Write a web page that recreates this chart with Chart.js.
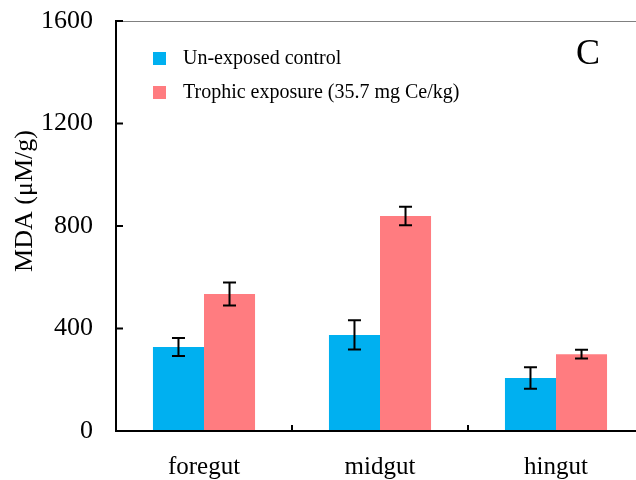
<!DOCTYPE html>
<html>
<head>
<meta charset="utf-8">
<title>MDA in gut segments</title>
<style>
  html, body { margin: 0; padding: 0; overflow: hidden; background: #fff; }
  #wrap { width: 644px; height: 480px; }
</style>
</head>
<body>
<div id="wrap"><canvas id="myChart"></canvas></div>
<script src="https://cdn.jsdelivr.net/npm/chart.js"></script>
<script>
const segments = ['foregut', 'midgut', 'hingut'];
const controlMda = [328, 375, 207];
const controlErr = [35, 57, 42];
const exposedMda = [535, 839, 300];
const exposedErr = [45, 36, 17];
const yTicks = [0, 400, 800, 1200, 1600];
const yTitle = 'MDA (\u03bcM/g)';
const panelLetter = 'C';

const serif = "'Liberation Serif', 'Times New Roman', serif";

// whiskers: mean +/- error, drawn on top of each bar
const errorBars = {
  id: 'errorBars',
  afterDatasetsDraw(chart) {
    const ctx = chart.ctx;
    const y = chart.scales.y;
    ctx.save();
    ctx.strokeStyle = '#000';
    ctx.lineWidth = 2;
    chart.data.datasets.forEach((ds, i) => {
      chart.getDatasetMeta(i).data.forEach((bar, j) => {
        const hi = y.getPixelForValue(ds.data[j] + ds.errors[j]);
        const lo = y.getPixelForValue(ds.data[j] - ds.errors[j]);
        const x = bar.x;
        ctx.beginPath();
        ctx.moveTo(x, hi); ctx.lineTo(x, lo);
        ctx.moveTo(x - 6.5, hi); ctx.lineTo(x + 6.5, hi);
        ctx.moveTo(x - 6.5, lo); ctx.lineTo(x + 6.5, lo);
        ctx.stroke();
      });
    });
    ctx.restore();
  }
};

// frame: top rule, baseline, inward tick marks
const frame = {
  id: 'frame',
  afterDatasetsDraw(chart) {
    const ctx = chart.ctx;
    const { left, top, bottom } = chart.chartArea;
    const right = chart.width;
    const x = chart.scales.x, y = chart.scales.y;
    ctx.save();
    ctx.strokeStyle = '#808080';
    ctx.lineWidth = 1;
    ctx.beginPath();
    ctx.moveTo(left, top + 0.5); ctx.lineTo(right, top + 0.5);
    ctx.stroke();

    ctx.strokeStyle = '#000';
    ctx.lineWidth = 2;
    ctx.beginPath();
    ctx.moveTo(left - 1, bottom); ctx.lineTo(right, bottom);
    yTicks.forEach(v => {
      const py = y.getPixelForValue(v);
      ctx.moveTo(left, py); ctx.lineTo(left + 7, py);
    });
    for (let i = 0; i < segments.length - 1; i++) {
      const px = (x.getPixelForValue(i) + x.getPixelForValue(i + 1)) / 2;
      ctx.moveTo(px, bottom); ctx.lineTo(px, bottom - 6);
    }
    ctx.stroke();
    ctx.restore();
  }
};

// legend, panel letter and y title
const annotations = {
  id: 'annotations',
  afterDraw(chart) {
    const ctx = chart.ctx;
    ctx.save();
    ctx.fillStyle = '#000';
    ctx.textBaseline = 'middle';
    ctx.textAlign = 'left';
    ctx.font = '20px ' + serif;
    chart.data.datasets.forEach((ds, i) => {
      const cy = 58.5 + i * 34;
      ctx.fillStyle = ds.backgroundColor;
      ctx.fillRect(153, cy - 6.5, 13, 13);
      ctx.fillStyle = '#000';
      ctx.fillText(ds.label, 183, cy);
    });

    ctx.font = '36px ' + serif;
    ctx.textAlign = 'center';
    ctx.fillText(panelLetter, 588, 55);

    ctx.font = '26px ' + serif;
    ctx.translate(25, 201);
    ctx.rotate(-Math.PI / 2);
    ctx.fillText(yTitle, 0, 0);
    ctx.restore();
  }
};

const ctx = document.getElementById('myChart').getContext('2d');

const myChart = new Chart(ctx, {
  type: 'bar',
  data: {
    labels: segments,
    datasets: [{
      label: 'Un-exposed control',
      data: controlMda,
      errors: controlErr,
      backgroundColor: '#00B0F0',
    }, {
      label: 'Trophic exposure (35.7 mg Ce/kg)',
      data: exposedMda,
      errors: exposedErr,
      backgroundColor: '#FF7C80',
    }]
  },
  options: {
    responsive: true,
    maintainAspectRatio: false,
    animation: false,
    layout: { padding: { top: 21, right: 0, left: 0, bottom: 0 } },
    categoryPercentage: 0.58,
    barPercentage: 1.0,
    plugins: {
      legend: { display: false },
      tooltip: { enabled: false }
    },
    scales: {
      x: {
        grid: { display: false, drawTicks: false },
        border: { display: false },
        ticks: { color: '#000', font: { family: serif, size: 25 }, padding: 21 },
        afterFit: s => { s.height = 49; s.paddingLeft = 0; s.paddingRight = 0; }
      },
      y: {
        min: 0,
        max: 1600,
        grid: { display: false, drawTicks: false },
        border: { display: true, color: '#000', width: 2 },
        ticks: {
          color: '#000',
          font: { family: serif, size: 26 },
          padding: 23,
          callback: v => String(v)
        },
        afterBuildTicks: s => { s.ticks = yTicks.map(v => ({ value: v })); },
        afterFit: s => { s.width = 116; s.paddingTop = 0; s.paddingBottom = 0; }
      }
    }
  },
  plugins: [errorBars, frame, annotations]
});
</script>
</body>
</html>
